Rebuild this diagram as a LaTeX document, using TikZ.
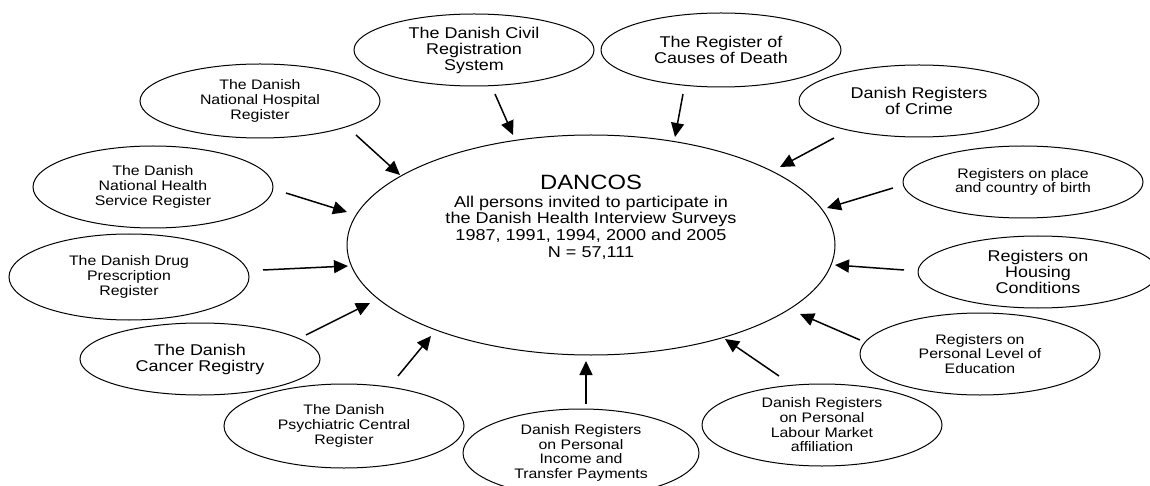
\documentclass[tikz,border=0pt]{standalone}
\usepackage{fontspec}
\setmainfont{Liberation Sans}[FakeStretch=1.15]
\usetikzlibrary{shapes.geometric,arrows.meta}

\begin{document}
\begin{tikzpicture}[x=1pt, y=-1pt,
		reg/.style={draw, ellipse, line width=1pt, inner sep=0pt, minimum width=240pt, minimum height=72pt, align=center, font=\fontsize{13.8}{14.7}\selectfont},
		regbig/.style={reg, font=\fontsize{15.6}{16}\selectfont},
		feed/.style={-{Triangle[length=14pt,width=13pt]}, line width=1.5pt}]
			\useasboundingbox (0,0) rectangle (1150,486);
			\node[draw, ellipse, line width=1pt, inner sep=0pt, minimum width=488pt, minimum height=220pt] (dancos) at (591,245) {};
			\node[align=center, font=\fontsize{15.7}{16.8}\selectfont] (dancostext) at (591,217) {{\fontsize{20.7}{22}\selectfont DANCOS}\\[1.2pt]All persons invited to participate in\\the Danish Health Interview Surveys\\1987, 1991, 1994, 2000 and 2005\\N = 57,111};
			\node[regbig] (civil) at (474,50) {The Danish Civil\\Registration\\System};
			\node[regbig, minimum height=74pt] (death) at (721,50) {The Register of\\Causes of Death};
			\node[regbig] (crime) at (919,101) {Danish Registers\\of Crime};
			\node[reg] (birth) at (1023,182) {Registers on place\\and country of birth};
			\node[regbig] (housing) at (1038,272) {Registers on\\Housing\\Conditions};
			\node[reg, minimum height=82pt] (education) at (980,354) {Registers on\\Personal Level of\\Education};
			\node[reg, minimum height=82pt] (labour) at (822,425) {Danish Registers\\on Personal\\Labour Market\\affiliation};
			\node[reg, minimum width=236pt, minimum height=88pt] (income) at (581,453) {Danish Registers\\on Personal\\Income and\\Transfer Payments};
			\node[reg, minimum height=84pt] (psychiatric) at (344,426) {The Danish\\Psychiatric Central\\Register};
			\node[regbig] (cancer) at (200,359) {The Danish\\Cancer Registry};
			\node[reg, minimum height=86pt] (drug) at (129,277) {The Danish Drug\\Prescription\\Register};
			\node[reg, minimum height=82pt] (health) at (153,187) {The Danish\\National Health\\Service Register};
			\node[reg, minimum height=74pt] (hospital) at (260,101) {The Danish\\National Hospital\\Register};
			\coordinate (civil-s) at (495,94);
			\coordinate (civil-e) at (513,135);
			\coordinate (death-s) at (683,94);
			\coordinate (death-e) at (675,137);
			\coordinate (crime-s) at (834,138);
			\coordinate (crime-e) at (780,167);
			\coordinate (birth-s) at (893,188);
			\coordinate (birth-e) at (827,208);
			\coordinate (housing-s) at (904,270);
			\coordinate (housing-e) at (835,265);
			\coordinate (education-s) at (860,340);
			\coordinate (education-e) at (800,314);
			\coordinate (labour-s) at (779,376);
			\coordinate (labour-e) at (725,339);
			\coordinate (income-s) at (586,404);
			\coordinate (income-e) at (586,361);
			\coordinate (psychiatric-s) at (398,376);
			\coordinate (psychiatric-e) at (431,336);
			\coordinate (cancer-s) at (306,335);
			\coordinate (cancer-e) at (370,303);
			\coordinate (drug-s) at (263,270);
			\coordinate (drug-e) at (348,266);
			\coordinate (health-s) at (286,193);
			\coordinate (health-e) at (347,212);
			\coordinate (hospital-s) at (356,135);
			\coordinate (hospital-e) at (400,175);
			\draw[feed] (civil-s) -- (civil-e);
			\draw[feed] (death-s) -- (death-e);
			\draw[feed] (crime-s) -- (crime-e);
			\draw[feed] (birth-s) -- (birth-e);
			\draw[feed] (housing-s) -- (housing-e);
			\draw[feed] (education-s) -- (education-e);
			\draw[feed] (labour-s) -- (labour-e);
			\draw[feed] (income-s) -- (income-e);
			\draw[feed] (psychiatric-s) -- (psychiatric-e);
			\draw[feed] (cancer-s) -- (cancer-e);
			\draw[feed] (drug-s) -- (drug-e);
			\draw[feed] (health-s) -- (health-e);
			\draw[feed] (hospital-s) -- (hospital-e);
		\end{tikzpicture}
\end{document}
